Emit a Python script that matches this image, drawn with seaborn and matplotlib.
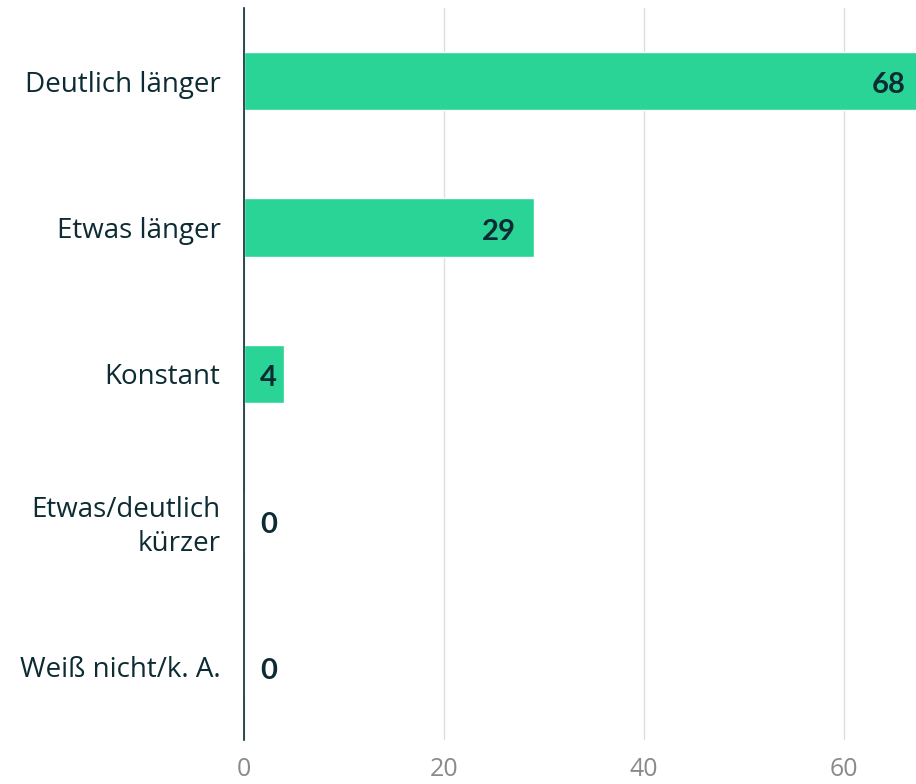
import matplotlib
matplotlib.use("Agg")
import matplotlib.pyplot as plt
import seaborn as sns
import pandas as pd

categories = ["Deutlich länger", "Etwas länger", "Konstant", "Etwas/deutlich\nkürzer", "Weiß nicht/k. A."]
values = [68, 29, 4, 0, 0]
xticks = [0, 20, 40, 60]

dark = "#0d2b33"
green = "#2ad396"

sns.set_style("white")
plt.rcParams["font.family"] = ["Open Sans", "DejaVu Sans"]

df = pd.DataFrame({"cat": categories, "val": values})

fig = plt.figure(figsize=(9.16, 7.84), dpi=100)
ax = fig.add_axes([0.2664, 0.056, 0.7336, 0.934])

sns.barplot(data=df, x="val", y="cat", orient="h", color=green, saturation=1,
            width=0.4, ax=ax, zorder=2)

ax.set_xlim(0, 67.2)
ax.set_ylim(4.5, -0.5)
ax.set_xticks(xticks)
ax.set_xlabel("")
ax.set_ylabel("")
ax.grid(axis="x", color="#dddddd", linewidth=1, zorder=0)
ax.set_axisbelow(True)

for s in ["top", "right", "bottom"]:
    ax.spines[s].set_visible(False)
ax.spines["left"].set_color(dark)
ax.spines["left"].set_linewidth(1.2)
ax.spines["left"].set_zorder(3)

ax.tick_params(axis="x", length=0, labelsize=18, labelcolor="#8a8a8a", pad=12)
ax.tick_params(axis="y", length=0, labelsize=20, labelcolor=dark, pad=17)
for lbl in ax.get_yticklabels():
    lbl.set_horizontalalignment("right")
    lbl.set_multialignment("right")
    lbl.set_linespacing(1.3)

# value labels: inside the bar end, or just right of the axis for small values
for i, v in enumerate(values):
    if v >= 10:
        x, ha = v - 1.8, "right"
    else:
        x, ha = 1.6, "left"
    ax.text(x, i + 0.03, str(v), ha=ha, va="center", fontsize=21,
            family=["Lato", "DejaVu Sans"], fontweight="bold", fontstyle="normal",
            color=dark, zorder=4)

fig.savefig("out.png", dpi=100)
